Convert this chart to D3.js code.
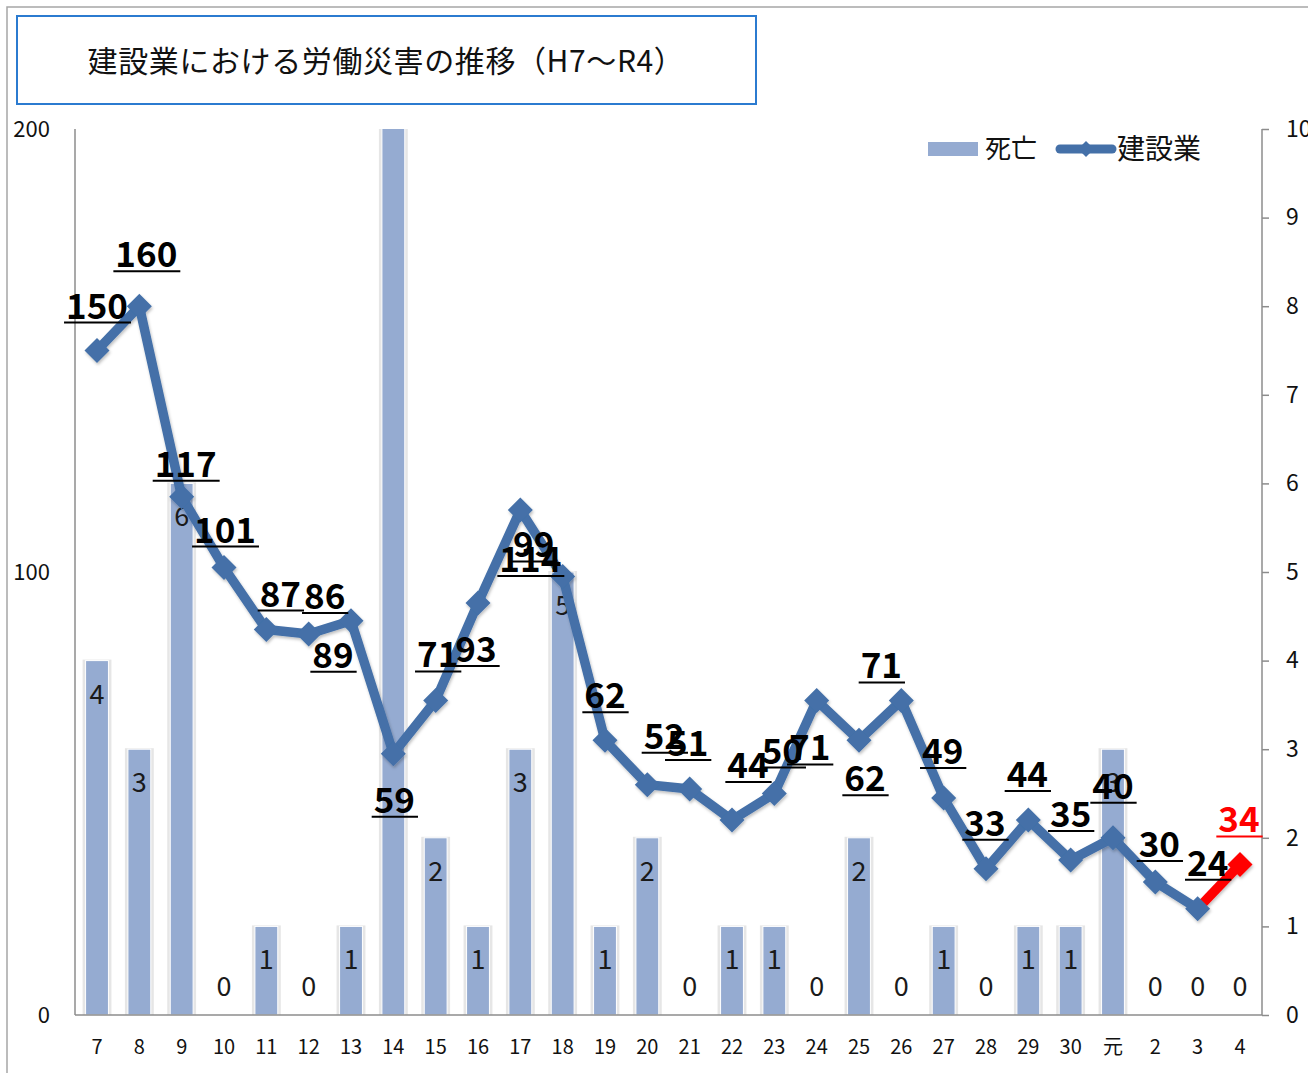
<!DOCTYPE html>
<html><head><meta charset="utf-8">
<script src="https://cdn.jsdelivr.net/npm/d3@7"></script>
<style>
html,body{margin:0;padding:0;background:#fff;}
svg{display:block;}
text{font-family:"Noto Sans CJK JP","Noto Sans",sans-serif;}
</style></head>
<body>
<script>
// ---- data ----
const categories = ["7","8","9","10","11","12","13","14","15","16","17","18","19","20","21","22","23","24","25","26","27","28","29","30","元","2","3","4"];
const deaths = [4,3,6,0,1,0,1,11,2,1,3,5,1,2,0,1,1,0,2,0,1,0,1,1,3,0,0,0];
const construction = [150,160,117,101,87,86,89,59,71,93,114,99,62,52,51,44,50,71,62,71,49,33,44,35,40,30,24,34];
const leftTicks = [0,100,200];
const rightTicks = [0,1,2,3,4,5,6,7,8,9,10];
const seriesNames = ["死亡","建設業"];
const titleText = "建設業における労働災害の推移（H7～R4）";
// label placement offsets (layout only), relative to each point: [dx, dy]
const labelOffsets = [[0,-44],[7,-51],[4,-32],[1,-37],[14,-35],[16,-37],[-18,35],[1,47],[2,-45],[-2,47],[10,50],[-29,-31],[0,-44],[17,-48],[-2,-45],[16,-54],[8,-42],[-7,48],[6,39],[-20,-34],[-1,-46],[-1,-45],[-1,-45],[0,-45],[0,-51],[4,-37],[10,-45],[-1,-44]];

const W = 1308, H = 1073;
const plot = {left:75, right:1262, top:129, bottom:1015};
const barColor = "#95abd1", lineColor = "#4470a8", axisColor = "#8c8c8c";

const svg = d3.select("body").append("svg").attr("width", W).attr("height", H);

const defs = svg.append("defs");
defs.append("clipPath").attr("id","plotclip").append("rect")
  .attr("x", plot.left).attr("y", plot.top).attr("width", plot.right-plot.left).attr("height", plot.bottom-plot.top);
const f = defs.append("filter").attr("id","shadow").attr("x","-10%").attr("y","-10%").attr("width","130%").attr("height","130%");
f.append("feDropShadow").attr("dx",1).attr("dy",2).attr("stdDeviation",1.5).attr("flood-color","#000").attr("flood-opacity",0.25);

// outer frame
svg.append("rect").attr("x",7).attr("y",7).attr("width",W).attr("height",H)
  .attr("fill","none").attr("stroke","#a6a6a6").attr("stroke-width",1.5);

// title box
svg.append("rect").attr("x",17).attr("y",16).attr("width",739).attr("height",88)
  .attr("fill","#fff").attr("stroke","#2b7bd0").attr("stroke-width",2);
svg.append("text").attr("x",386).attr("y",72).attr("text-anchor","middle")
  .attr("font-size",30).attr("letter-spacing",0.6).attr("fill","#111").text(titleText);

// scales
const x = d3.scaleBand().domain(categories).range([plot.left, plot.right]).paddingInner(0.46).paddingOuter(0.25);
const yL = d3.scaleLinear().domain([0,200]).range([plot.bottom, plot.top]);
const yR = d3.scaleLinear().domain([0,10]).range([plot.bottom, plot.top]);
const cx = c => x(c) + x.bandwidth()/2;

// bars
const barG = svg.append("g").attr("clip-path","url(#plotclip)");
barG.selectAll("rect.halo").data(categories).join("rect").attr("class","halo")
  .attr("x", c => x(c)-3).attr("width", x.bandwidth()+6)
  .attr("y", (c,i) => yR(deaths[i])-1).attr("height", (c,i) => deaths[i] ? plot.bottom - yR(deaths[i]) + 1 : 0)
  .attr("fill","#e6e6e6");
barG.selectAll("rect.bar").data(categories).join("rect").attr("class","bar")
  .attr("x", c => x(c)).attr("width", x.bandwidth())
  .attr("y", (c,i) => yR(deaths[i])).attr("height", (c,i) => plot.bottom - yR(deaths[i]))
  .attr("fill", barColor).attr("stroke","#fff").attr("stroke-width",1);

// bar labels
barG.selectAll("text.bl").data(categories).join("text").attr("class","bl")
  .attr("x", cx).attr("y", (c,i) => deaths[i] ? yR(deaths[i]) + 43 : 996)
  .attr("text-anchor","middle").attr("font-size",27).attr("fill","#1a1a1a")
  .text((c,i) => deaths[i]);

// axes
svg.append("line").attr("x1",plot.left).attr("x2",plot.left).attr("y1",plot.top).attr("y2",plot.bottom)
  .attr("stroke",axisColor).attr("stroke-width",1.5);
svg.append("line").attr("x1",plot.left).attr("x2",plot.right).attr("y1",plot.bottom).attr("y2",plot.bottom)
  .attr("stroke",axisColor).attr("stroke-width",1.5);

const axL = svg.append("g").attr("transform",`translate(${plot.left},0)`)
  .call(d3.axisLeft(yL).tickValues(leftTicks).tickSize(0).tickPadding(25));
axL.select(".domain").remove();
axL.selectAll("text").attr("font-size",22).attr("fill","#111").attr("font-family","Noto Sans CJK JP");

const axR = svg.append("g").attr("transform",`translate(${plot.right},0)`)
  .call(d3.axisRight(yR).tickValues(rightTicks).tickSize(7).tickPadding(17));
axR.select(".domain").attr("stroke",axisColor).attr("stroke-width",1.5).attr("d",`M0,${plot.top}V${plot.bottom}`);
axR.selectAll(".tick line").attr("stroke",axisColor).attr("stroke-width",1.5);
axR.selectAll("text").attr("font-size",23).attr("fill","#111").attr("font-family","Noto Sans CJK JP");

const axB = svg.append("g").attr("transform",`translate(0,${plot.bottom})`)
  .call(d3.axisBottom(x).tickSize(0).tickPadding(25));
axB.select(".domain").remove();
axB.selectAll("text").attr("font-size",20).attr("fill","#111").attr("font-family","Noto Sans CJK JP");

// line
const pts = categories.map((c,i) => [cx(c), yL(construction[i])]);
const lineGen = d3.line();
const lineG = svg.append("g").attr("filter","url(#shadow)");
lineG.append("path").attr("d", lineGen(pts.slice(0, pts.length-1)))
  .attr("fill","none").attr("stroke",lineColor).attr("stroke-width",9.5).attr("stroke-linejoin","round");
lineG.append("path").attr("d", lineGen(pts.slice(pts.length-2)))
  .attr("fill","none").attr("stroke","#ff0000").attr("stroke-width",9.5);
const diamond = "M0,-12.5L12.5,0L0,12.5L-12.5,0Z";
lineG.selectAll("path.mk").data(pts).join("path").attr("class","mk")
  .attr("d", diamond).attr("transform", d => `translate(${d[0]},${d[1]})`)
  .attr("fill", (d,i) => i === pts.length-1 ? "#ff0000" : lineColor);

// line labels
const lblG = svg.append("g");
categories.forEach((c,i) => {
  const px = pts[i][0] + labelOffsets[i][0];
  const py = pts[i][1] + labelOffsets[i][1];
  const col = i === categories.length-1 ? "#ff0000" : "#000";
  const t = lblG.append("text").attr("x",px).attr("y",py+12).attr("text-anchor","middle")
    .attr("font-size",35).attr("font-weight","bold").attr("fill",col).text(construction[i]);
  const w = t.node().getComputedTextLength();
  lblG.append("line").attr("x1",px-w/2-2).attr("x2",px+w/2+3).attr("y1",py+16).attr("y2",py+16)
    .attr("stroke",col).attr("stroke-width",2);
});

// legend
const lg = svg.append("g");
lg.append("rect").attr("x",928).attr("y",142).attr("width",50).attr("height",14).attr("fill",barColor);
lg.append("text").attr("x",985).attr("y",158).attr("font-size",26).attr("fill","#111").text(seriesNames[0]);
lg.append("line").attr("x1",1060).attr("x2",1112).attr("y1",149).attr("y2",149)
  .attr("stroke",lineColor).attr("stroke-width",9).attr("stroke-linecap","round");
lg.append("path").attr("d","M0,-8L8,0L0,8L-8,0Z").attr("transform","translate(1086,149)").attr("fill",lineColor);
lg.append("text").attr("x",1117).attr("y",159).attr("font-size",28).attr("fill","#111").text(seriesNames[1]);
</script>
</body></html>
